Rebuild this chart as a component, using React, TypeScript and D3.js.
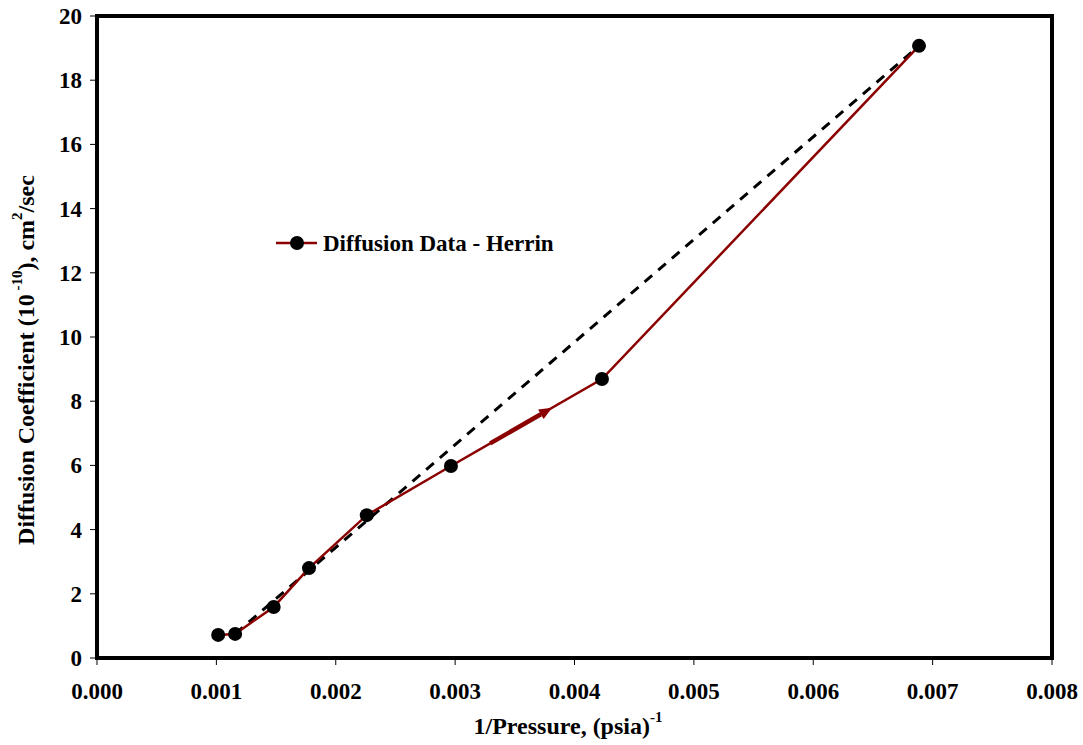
import React from "react";
import * as d3 from "d3";

const xData = [0.001015, 0.001157, 0.00148, 0.001776, 0.00226, 0.002965, 0.00423, 0.006886];
const yData = [0.72, 0.75, 1.59, 2.8, 4.45, 5.98, 8.69, 19.07];
const xTicks = [0, 0.001, 0.002, 0.003, 0.004, 0.005, 0.006, 0.007, 0.008];
const yTicks = [0, 2, 4, 6, 8, 10, 12, 14, 16, 18, 20];
const trendStart = 1; // dashed trend from point index 1 to last
const seriesName = "Diffusion Data - Herrin";

export default function App() {
  const W = 1083, H = 745;
  const left = 97, right = 1052, top = 16, bottom = 658;
  const x = d3.scaleLinear().domain([0, 0.008]).range([left, right]);
  const y = d3.scaleLinear().domain([0, 20]).range([bottom, top]);
  const pts = xData.map((v, i) => [x(v), y(yData[i])] as [number, number]);
  const line = d3.line()(pts) || "";
  const last = pts.length - 1;
  const a = pts[5], b = pts[6];
  const t0 = 0.26, t1 = 0.67;
  const ax0 = a[0] + (b[0] - a[0]) * t0, ay0 = a[1] + (b[1] - a[1]) * t0;
  const ax1 = a[0] + (b[0] - a[0]) * t1, ay1 = a[1] + (b[1] - a[1]) * t1;
  const ang = Math.atan2(ay1 - ay0, ax1 - ax0);
  const hl = 13, hw = 5.5;
  const bx = ax1 - hl * Math.cos(ang), by = ay1 - hl * Math.sin(ang);
  const head = `M${ax1},${ay1} L${bx - hw * Math.sin(ang)},${by + hw * Math.cos(ang)} L${bx + hw * Math.sin(ang)},${by - hw * Math.cos(ang)} Z`;
  const red = "#8B0000";
  const fs = { fontFamily: "Liberation Serif", fontWeight: "bold" as const };
  return (
    <svg width={W} height={H} style={{ position: "absolute", left: 0, top: 0, background: "#fff" }}>
      {yTicks.map((t) => (
        <g key={"y" + t}>
          <line x1={left - 7} x2={left} y1={y(t)} y2={y(t)} stroke="#000" strokeWidth={1} />
          <text x={left - 15} y={y(t) + 8} textAnchor="end" fontSize={23} style={fs}>{t}</text>
        </g>
      ))}
      {xTicks.map((t) => (
        <g key={"x" + t}>
          <line x1={x(t)} x2={x(t)} y1={bottom} y2={bottom + 7} stroke="#000" strokeWidth={1} />
          <text x={x(t)} y={bottom + 41} textAnchor="middle" fontSize={23} style={fs}>{t.toFixed(3)}</text>
        </g>
      ))}
      <rect x={left} y={top} width={right - left} height={bottom - top} fill="none" stroke="#000" strokeWidth={4} />
      <line x1={pts[trendStart][0]} y1={pts[trendStart][1]} x2={pts[last][0]} y2={pts[last][1]} stroke="#000" strokeWidth={3} strokeDasharray="10,8" />
      <path d={line} fill="none" stroke={red} strokeWidth={2.5} />
      <line x1={ax0} y1={ay0} x2={bx} y2={by} stroke={red} strokeWidth={4.5} />
      <path d={head} fill={red} />
      {pts.map((p, i) => (
        <circle key={i} cx={p[0]} cy={p[1]} r={7} fill="#000" />
      ))}
      <line x1={276} x2={317} y1={243} y2={243} stroke={red} strokeWidth={2.5} />
      <circle cx={297} cy={243} r={7} fill="#000" />
      <text x={323} y={251} fontSize={23} style={fs}>{seriesName}</text>
      <text x={568} y={734} textAnchor="middle" fontSize={24} style={fs}>
        1/Pressure, (psia)<tspan fontSize={15} dy={-12}>-1</tspan>
      </text>
      <text transform="translate(34,360) rotate(-90)" textAnchor="middle" fontSize={24} style={fs}>
        Diffusion Coefficient (10<tspan fontSize={15} dy={-12}> -10</tspan><tspan dy={12}>), cm</tspan><tspan fontSize={15} dy={-12}>2</tspan><tspan dy={12}>/sec</tspan>
      </text>
    </svg>
  );
}
